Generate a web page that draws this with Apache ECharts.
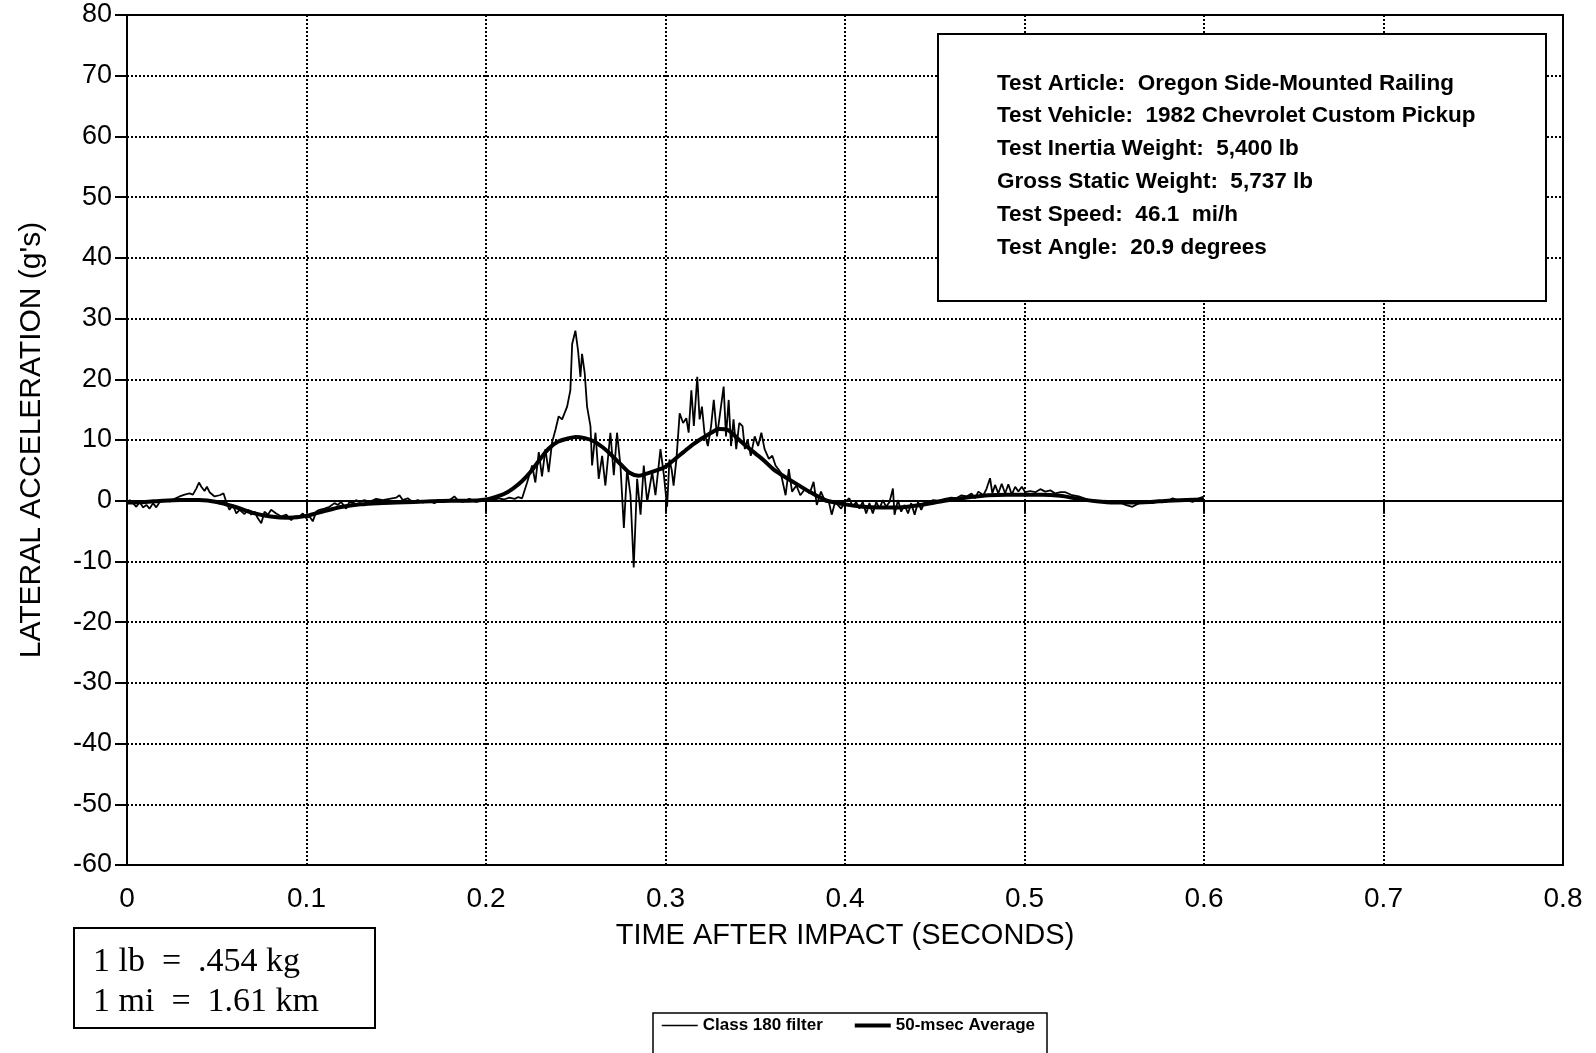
<!DOCTYPE html>
<html>
<head>
<meta charset="utf-8">
<script src="https://cdn.jsdelivr.net/npm/echarts@6/dist/echarts.min.js"></script>
<style>
  html, body { margin: 0; padding: 0; background: #fff; }
  #main { width: 1596px; height: 1053px; }
</style>
</head>
<body>
<div id="main"></div>
<script>
// class 180 filter trace (time s, lateral accel g's)
const filterTime = [
  0.0000, 0.0015, 0.0033, 0.0052, 0.0071, 0.0089, 0.0108, 0.0126, 0.0145, 0.0163,
  0.0182, 0.0210, 0.0237, 0.0265, 0.0293, 0.0321, 0.0349, 0.0367, 0.0386, 0.0401,
  0.0414, 0.0432, 0.0445, 0.0460, 0.0488, 0.0516, 0.0538, 0.0553, 0.0571, 0.0590,
  0.0609, 0.0627, 0.0655, 0.0673, 0.0692, 0.0711, 0.0729, 0.0748, 0.0766, 0.0785,
  0.0803, 0.0831, 0.0859, 0.0887, 0.0915, 0.0933, 0.0961, 0.0980, 0.0998, 0.1017,
  0.1035, 0.1054, 0.1072, 0.1100, 0.1128, 0.1156, 0.1174, 0.1193, 0.1221, 0.1239,
  0.1258, 0.1276, 0.1295, 0.1323, 0.1351, 0.1388, 0.1425, 0.1462, 0.1499, 0.1518,
  0.1536, 0.1564, 0.1592, 0.1620, 0.1647, 0.1685, 0.1712, 0.1740, 0.1768, 0.1796,
  0.1824, 0.1842, 0.1870, 0.1907, 0.1944, 0.1981, 0.2009, 0.2040, 0.2070, 0.2100,
  0.2130, 0.2160, 0.2180, 0.2201, 0.2229, 0.2257, 0.2275, 0.2294, 0.2312, 0.2331,
  0.2349, 0.2368, 0.2387, 0.2405, 0.2424, 0.2452, 0.2470, 0.2480, 0.2498, 0.2513,
  0.2526, 0.2535, 0.2550, 0.2563, 0.2582, 0.2591, 0.2610, 0.2628, 0.2647, 0.2665,
  0.2693, 0.2712, 0.2730, 0.2749, 0.2768, 0.2786, 0.2805, 0.2823, 0.2842, 0.2861,
  0.2879, 0.2898, 0.2926, 0.2944, 0.2972, 0.2991, 0.3009, 0.3022, 0.3035, 0.3045,
  0.3061, 0.3079, 0.3098, 0.3116, 0.3129, 0.3144, 0.3158, 0.3177, 0.3190, 0.3203,
  0.3217, 0.3236, 0.3254, 0.3269, 0.3287, 0.3309, 0.3324, 0.3337, 0.3352, 0.3365,
  0.3379, 0.3394, 0.3411, 0.3429, 0.3442, 0.3457, 0.3475, 0.3497, 0.3516, 0.3534,
  0.3552, 0.3576, 0.3595, 0.3613, 0.3641, 0.3669, 0.3687, 0.3705, 0.3729, 0.3751,
  0.3779, 0.3803, 0.3825, 0.3843, 0.3866, 0.3890, 0.3908, 0.3926, 0.3945, 0.3978,
  0.4000, 0.4024, 0.4043, 0.4062, 0.4080, 0.4099, 0.4118, 0.4136, 0.4155, 0.4174,
  0.4192, 0.4211, 0.4229, 0.4248, 0.4267, 0.4276, 0.4295, 0.4313, 0.4332, 0.4351,
  0.4369, 0.4388, 0.4407, 0.4425, 0.4444, 0.4463, 0.4491, 0.4519, 0.4556, 0.4593,
  0.4621, 0.4649, 0.4677, 0.4705, 0.4724, 0.4743, 0.4771, 0.4789, 0.4808, 0.4821,
  0.4836, 0.4854, 0.4873, 0.4892, 0.4910, 0.4929, 0.4948, 0.4966, 0.4985, 0.5004,
  0.5032, 0.5060, 0.5088, 0.5116, 0.5144, 0.5172, 0.5200, 0.5228, 0.5265, 0.5302,
  0.5340, 0.5377, 0.5414, 0.5451, 0.5489, 0.5526, 0.5563, 0.5601, 0.5638, 0.5675,
  0.5713, 0.5750, 0.5787, 0.5825, 0.5862, 0.5899, 0.5937, 0.5965, 0.5998
];
const filterAccel = [
  -0.3, 0.1, -0.4, -1.0, -0.2, -1.1, -0.7, -1.3, -0.4, -1.1,
  -0.2, 0.1, -0.1, 0.3, 0.7, 1.0, 1.2, 1.0, 2.0, 3.0,
  2.3, 1.6, 2.3, 1.4, 0.7, 0.9, 1.2, -0.2, -1.5, -0.7,
  -2.1, -1.5, -2.2, -1.5, -2.3, -1.8, -2.9, -3.7, -1.8, -2.3,
  -1.5, -2.1, -2.6, -2.3, -3.2, -2.6, -2.6, -2.1, -2.9, -2.6,
  -3.4, -1.8, -1.5, -1.3, -1.0, -0.4, -0.7, -0.2, -1.3, -0.2,
  -0.4, 0.1, -0.2, 0.1, -0.2, 0.3, 0.1, 0.3, 0.5, 0.9,
  0.1, 0.4, -0.2, 0.1, -0.3, 0.0, -0.4, 0.1, -0.2, 0.1,
  0.7, 0.1, -0.2, 0.3, -0.2, 0.1, 0.3, 0.1, 0.4, 0.2,
  0.5, 0.3, 0.6, 0.4, 3.0, 5.8, 3.0, 8.0, 4.0, 8.5,
  4.7, 9.6, 11.7, 13.9, 13.4, 15.5, 18.2, 25.8, 28.0, 24.7,
  20.4, 24.2, 21.0, 15.5, 12.3, 5.8, 11.2, 3.6, 7.4, 2.5,
  11.2, 4.2, 11.2, 5.8, -4.5, 5.2, 0.9, -11.0, 3.6, -2.3,
  5.8, -0.2, 4.7, 0.9, 8.5, 4.2, -1.0, 6.8, 5.0, 2.5,
  6.9, 14.4, 12.8, 13.6, 11.2, 18.2, 12.3, 20.4, 13.4, 15.5,
  11.2, 9.0, 12.3, 16.6, 10.6, 15.5, 18.8, 10.6, 16.6, 9.0,
  13.4, 8.5, 12.8, 12.3, 8.5, 10.1, 7.4, 10.6, 9.0, 11.2,
  8.5, 6.9, 7.4, 5.8, 4.7, 0.9, 5.2, 1.5, 2.5, 0.9,
  2.0, 1.2, 3.1, -0.7, 1.5, -0.2, 0.1, -2.3, -0.2, -1.3,
  -0.2, 0.4, -1.0, -0.2, -1.3, -0.2, -2.1, -0.4, -2.1, -0.2,
  -1.3, 0.1, -1.0, -0.2, 2.0, -2.3, 0.1, -1.8, -0.7, -2.1,
  -0.4, -2.3, -0.2, -1.5, -0.2, -0.4, 0.1, 0.0, 0.3, 0.5,
  0.4, 0.9, 0.7, 1.2, 0.4, 1.5, 0.9, 2.0, 3.7, 1.2,
  2.6, 1.2, 2.8, 1.2, 2.7, 1.0, 2.3, 1.5, 2.3, 1.4,
  1.6, 1.4, 1.9, 1.5, 1.7, 1.2, 1.4, 1.4, 0.9, 0.7,
  0.3, -0.1, -0.2, 0.0, -0.4, -0.2, -0.7, -1.0, -0.4, -0.2,
  -0.4, 0.0, -0.2, 0.4, 0.0, 0.1, -0.2, 0.3, 0.7
];

// 50-msec average trace
const avgTime = [
  0.00, 0.01, 0.02, 0.03, 0.04, 0.05, 0.06, 0.07, 0.08, 0.09,
  0.10, 0.11, 0.12, 0.13, 0.14, 0.15, 0.16, 0.17, 0.18, 0.19,
  0.20, 0.205, 0.21, 0.215, 0.22, 0.225, 0.23, 0.235, 0.24, 0.245,
  0.25, 0.255, 0.26, 0.265, 0.27, 0.275, 0.28, 0.285, 0.29, 0.295,
  0.30, 0.305, 0.31, 0.315, 0.32, 0.325, 0.33, 0.335, 0.34, 0.345,
  0.35, 0.355, 0.36, 0.365, 0.37, 0.375, 0.38, 0.385, 0.39, 0.40,
  0.41, 0.42, 0.43, 0.44, 0.45, 0.46, 0.47, 0.48, 0.49, 0.50,
  0.51, 0.52, 0.53, 0.54, 0.55, 0.56, 0.57, 0.58, 0.59, 0.60
];
const avgAccel = [
  -0.3, -0.2, 0.0, 0.1, 0.1, -0.2, -1.0, -2.0, -2.6, -2.8,
  -2.5, -1.7, -1.0, -0.6, -0.4, -0.3, -0.2, -0.1, 0.0, 0.0,
  0.2, 0.6, 1.1, 2.0, 3.2, 4.8, 6.8, 8.6, 9.7, 10.2,
  10.5, 10.3, 9.8, 8.8, 7.5, 6.0, 4.6, 4.1, 4.5, 5.0,
  5.6, 6.8, 8.0, 9.2, 10.2, 11.1, 11.8, 11.6, 10.3, 9.0,
  7.8, 6.6, 5.2, 4.2, 3.3, 2.4, 1.5, 0.7, 0.0, -0.6,
  -1.0, -1.1, -1.1, -0.8, -0.3, 0.2, 0.6, 0.9, 1.0, 1.0,
  1.0, 0.8, 0.3, -0.1, -0.3, -0.3, -0.2, 0.0, 0.1, 0.2
];

const infoLines = [
  'Test Article:  Oregon Side-Mounted Railing',
  'Test Vehicle:  1982 Chevrolet Custom Pickup',
  'Test Inertia Weight:  5,400 lb',
  'Gross Static Weight:  5,737 lb',
  'Test Speed:  46.1  mi/h',
  'Test Angle:  20.9 degrees'
];
const unitLines = ['1 lb  =  .454 kg', '1 mi  =  1.61 km'];

const sans = "'Liberation Sans', Arial, sans-serif";
// hide the little circle echarts puts on line legend icons
const noDot = { color: 'rgba(0,0,0,0)', borderWidth: 0 };

let chart = echarts.init(document.getElementById('main'));
chart.setOption({
  animation: false,
  backgroundColor: '#fff',
  grid: {
    left: 127, right: 33, top: 15, bottom: 188,
    show: true, borderColor: '#000', borderWidth: 2
  },
  legend: {
    left: 653, top: 1013,
    padding: [4, 12, 40, 8],
    itemWidth: 36, itemHeight: 14, itemGap: 30,
    borderColor: '#000', borderWidth: 1.5,
    textStyle: { fontFamily: sans, fontSize: 17, fontWeight: 'bold', color: '#000' },
    data: [
      { name: 'Class 180 filter', itemStyle: noDot, lineStyle: { color: '#000', width: 1.5 } },
      { name: '50-msec Average', itemStyle: noDot, lineStyle: { color: '#000', width: 4 } }
    ]
  },
  xAxis: {
    type: 'value',
    min: 0, max: 0.8, interval: 0.1,
    name: 'TIME AFTER IMPACT (SECONDS)',
    nameLocation: 'middle', nameGap: 56,
    nameTextStyle: { fontFamily: sans, fontSize: 29, color: '#000' },
    axisLine: { lineStyle: { color: '#000', width: 2 } },
    axisTick: { show: true, length: 13, lineStyle: { color: '#000', width: 2 } },
    axisLabel: { margin: 20, fontFamily: sans, fontSize: 28, color: '#000' },
    splitLine: { show: true, lineStyle: { color: '#000', width: 2, type: [2, 2] } }
  },
  yAxis: {
    type: 'value',
    min: -60, max: 80, interval: 10,
    name: "LATERAL ACCELERATION (g's)",
    nameLocation: 'middle', nameGap: 80,
    nameTextStyle: { fontFamily: sans, fontSize: 30, color: '#000' },
    axisLine: { show: true, lineStyle: { color: '#000', width: 2 } },
    axisTick: { show: true, length: 12, lineStyle: { color: '#000', width: 2 } },
    axisLabel: { margin: 15, fontFamily: sans, fontSize: 27, color: '#000' },
    splitLine: { show: true, lineStyle: { color: '#000', width: 2, type: [2, 2] } }
  },
  graphic: [
    {
      type: 'rect', left: 937, top: 33, z: 10,
      shape: { width: 608, height: 267 },
      style: { fill: '#fff', stroke: '#000', lineWidth: 2 }
    },
    {
      type: 'text', left: 997, top: 67, z: 11,
      style: {
        text: infoLines.join('\n'),
        font: "bold 22.5px 'Liberation Sans', Arial, sans-serif",
        lineHeight: 32.8, fill: '#000'
      }
    },
    {
      type: 'rect', left: 73, top: 927, z: 10,
      shape: { width: 301, height: 100 },
      style: { fill: '#fff', stroke: '#000', lineWidth: 2 }
    },
    {
      type: 'text', left: 93, top: 942, z: 11,
      style: {
        text: unitLines.join('\n'),
        font: "34px 'Liberation Serif', 'Times New Roman', serif",
        lineHeight: 40, fill: '#000'
      }
    }
  ],
  series: [
    {
      name: 'Class 180 filter',
      type: 'line',
      symbol: 'none',
      lineStyle: { color: '#000', width: 1.8 },
      itemStyle: { color: '#000' },
      data: filterTime.map((t, i) => [t, filterAccel[i]])
    },
    {
      name: '50-msec Average',
      type: 'line',
      symbol: 'none',
      smooth: 0.3,
      lineStyle: { color: '#000', width: 4 },
      itemStyle: { color: '#000' },
      data: avgTime.map((t, i) => [t, avgAccel[i]])
    }
  ]
});
</script>
</body>
</html>
